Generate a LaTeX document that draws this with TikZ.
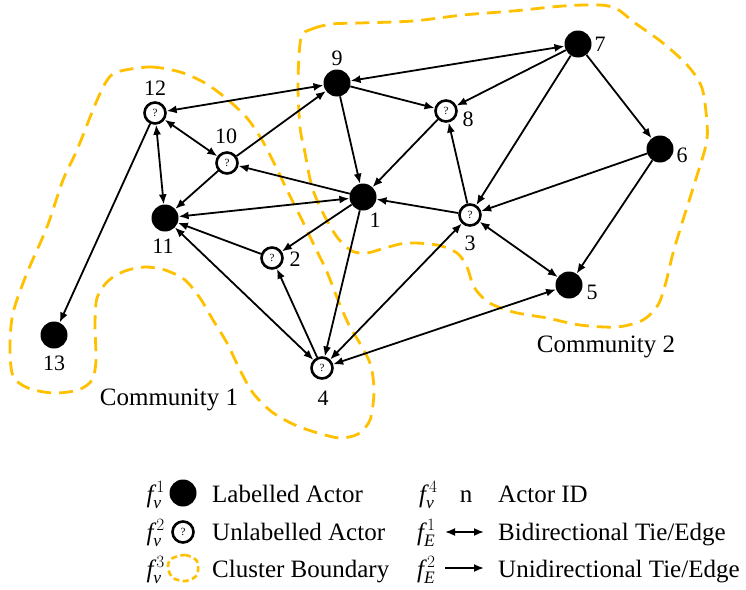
\documentclass[tikz,border=0pt]{standalone}
\usepackage{fontspec}
\setmainfont{Liberation Serif}
\usepackage{amsmath}
\usepackage{tikz}
\usetikzlibrary{arrows.meta, positioning}
\definecolor{clustergold}{RGB}{255,192,0}

\tikzset{
	labelled/.style={circle, fill=black, minimum size=27pt, inner sep=0pt},
	unlabelled/.style={circle, fill=white, draw=black, line width=2.6pt, minimum size=21pt, inner sep=0pt, font=\fontsize{11}{11}\selectfont},
	actorid/.style={inner sep=0pt, font=\fontsize{22}{24}\selectfont},
	legendtext/.style={inner sep=0pt, font=\fontsize{25}{28}\selectfont},
	tie/.style={line width=1.8pt, -{Latex[length=10pt, width=8pt]}},
	bitie/.style={line width=1.8pt, {Latex[length=10pt, width=8pt]}-{Latex[length=10pt, width=8pt]}},
	boundary/.style={draw=clustergold, line width=2.8pt, dash pattern=on 14pt off 8pt}
}
\newcommand{\featv}[1]{$\mathit{f}^{\,#1}_{\mathit{v}}$}
\newcommand{\feate}[1]{$\mathit{f}^{\,#1}_{\mathit{E}}$}

\begin{document}
\begin{tikzpicture}[x=1pt, y=-1pt]
				\useasboundingbox (0, 0) rectangle (746, 589);

				\draw [boundary] plot [smooth cycle] coordinates {(117,72) (150,67) (180,72) (205,83) (227,99) (247,118) (262,140) (275,165) (288,192) (301,218) (314,245) (327,272) (338,300) (349,325) (362,347) (371,366) (374,392) (370,420) (358,434) (340,438) (318,433) (295,425) (272,412) (253,393) (240,370) (227,343) (213,320) (200,298) (185,280) (165,270) (145,267) (125,271) (108,281) (97,298) (95,325) (96,360) (92,380) (78,390) (53,393) (28,388) (13,376) (10,347) (13,313) (27,273) (47,227) (63,180) (77,150) (95,105) (106,82)};
				\draw [boundary] plot [smooth cycle] coordinates {(301,38) (312,29) (332,24) (360,23) (413,21) (463,15) (513,11) (563,6) (600,5) (617,9) (635,23) (663,43) (688,66) (702,88) (707,123) (706,145) (694,185) (683,220) (673,253) (666,282) (658,305) (643,320) (617,327) (580,325) (547,318) (513,312) (488,302) (474,287) (467,267) (457,253) (437,245) (407,243) (385,248) (367,253) (352,251) (337,237) (323,213) (312,187) (305,153) (300,127) (298,83)};

				\node (Com1) [legendtext] at (169, 400) {Community 1};
				\node (Com2) [legendtext] at (606, 347) {Community 2};

				\node (N1) [labelled] at (363, 197) {};
				\node (N2) [unlabelled] at (272, 258) {?};
				\node (N3) [unlabelled] at (470, 215) {?};
				\node (N4) [unlabelled] at (322, 368) {?};
				\node (N5) [labelled] at (569, 285) {};
				\node (N6) [labelled] at (660, 149) {};
				\node (N7) [labelled] at (578, 44) {};
				\node (N8) [unlabelled] at (446, 111) {?};
				\node (N9) [labelled] at (337, 83) {};
				\node (N10) [unlabelled] at (227, 163) {?};
				\node (N11) [labelled] at (165, 218) {};
				\node (N12) [unlabelled] at (155, 113) {?};
				\node (N13) [labelled] at (54, 335) {};

				\draw [bitie] (N12) -- (N9);
				\draw [bitie] (N12) -- (N10);
				\draw [bitie] (N12) -- (N11);
				\draw [bitie] (N11) -- (N1);
				\draw [bitie] (N11) -- (N4);
				\draw [bitie] (N7) -- (N9);
				\draw [bitie] (N3) -- (N4);
				\draw [bitie] (N5) -- (N4);
				\draw [bitie] (N3) -- (N5);

				\draw [tie] (N12) -- (N13);
				\draw [tie] (N10) -- (N9);
				\draw [tie] (N10) -- (N11);
				\draw [tie] (N1) -- (N10);
				\draw [tie] (N2) -- (N11);
				\draw [tie] (N1) -- (N2);
				\draw [tie] (N4) -- (N2);
				\draw [tie] (N1) -- (N4);
				\draw [tie] (N9) -- (N8);
				\draw [tie] (N9) -- (N1);
				\draw [tie] (N7) -- (N8);
				\draw [tie] (N8) -- (N1);
				\draw [tie] (N3) -- (N8);
				\draw [tie] (N7) -- (N3);
				\draw [tie] (N7) -- (N6);
				\draw [tie] (N6) -- (N3);
				\draw [tie] (N6) -- (N5);
				\draw [tie] (N3) -- (N1);

				\node (L1) [actorid] at (375, 220) {1};
				\node (L2) [actorid] at (295, 259) {2};
				\node (L3) [actorid] at (470, 243) {3};
				\node (L4) [actorid] at (323, 398) {4};
				\node (L5) [actorid] at (592, 292) {5};
				\node (L6) [actorid] at (682, 155) {6};
				\node (L7) [actorid] at (600, 44) {7};
				\node (L8) [actorid] at (468, 119) {8};
				\node (L9) [actorid] at (337, 58) {9};
				\node (L10) [actorid] at (226, 136) {10};
				\node (L11) [actorid] at (163, 246) {11};
				\node (L12) [actorid] at (155, 88) {12};
				\node (L13) [actorid] at (54, 363) {13};

				\node (FV1) [legendtext, anchor=base east] at (165, 502) {\featv{1}};
				\node (KeyLab) [labelled] at (183, 493) {};
				\node (TxtLab) [legendtext, anchor=base west] at (212, 502) {Labelled Actor};

				\node (FV2) [legendtext, anchor=base east] at (165, 540) {\featv{2}};
				\node (KeyUnlab) [unlabelled] at (183, 532) {?};
				\node (TxtUnlab) [legendtext, anchor=base west] at (212, 540) {Unlabelled Actor};

				\node (FV3) [legendtext, anchor=base east] at (165, 577) {\featv{3}};
				\draw [draw=clustergold, line width=2.6pt, dash pattern=on 6pt off 3.5pt] plot [smooth cycle] coordinates {(171,559) (185,555) (197,561) (197,575) (186,581) (173,578) (168,568)};
				\node (TxtClus) [legendtext, anchor=base west] at (212, 577) {Cluster Boundary};

				\node (FV4) [legendtext, anchor=base west] at (419, 502) {\featv{4}};
				\node (KeyId) [legendtext, anchor=base] at (466, 502) {n};
				\node (TxtId) [legendtext, anchor=base west] at (498, 502) {Actor ID};

				\node (FE1) [legendtext, anchor=base west] at (417, 540) {\feate{1}};
				\coordinate (BiFrom) at (445, 532);
				\coordinate (BiTo) at (484, 532);
				\draw [bitie] (BiFrom) -- (BiTo);
				\node (TxtBi) [legendtext, anchor=base west] at (498, 540) {Bidirectional Tie/Edge};

				\node (FE2) [legendtext, anchor=base west] at (417, 577) {\feate{2}};
				\coordinate (UniFrom) at (445, 568);
				\coordinate (UniTo) at (484, 568);
				\draw [tie] (UniFrom) -- (UniTo);
				\node (TxtUni) [legendtext, anchor=base west] at (498, 577) {Unidirectional Tie/Edge};
			\end{tikzpicture}
\end{document}
